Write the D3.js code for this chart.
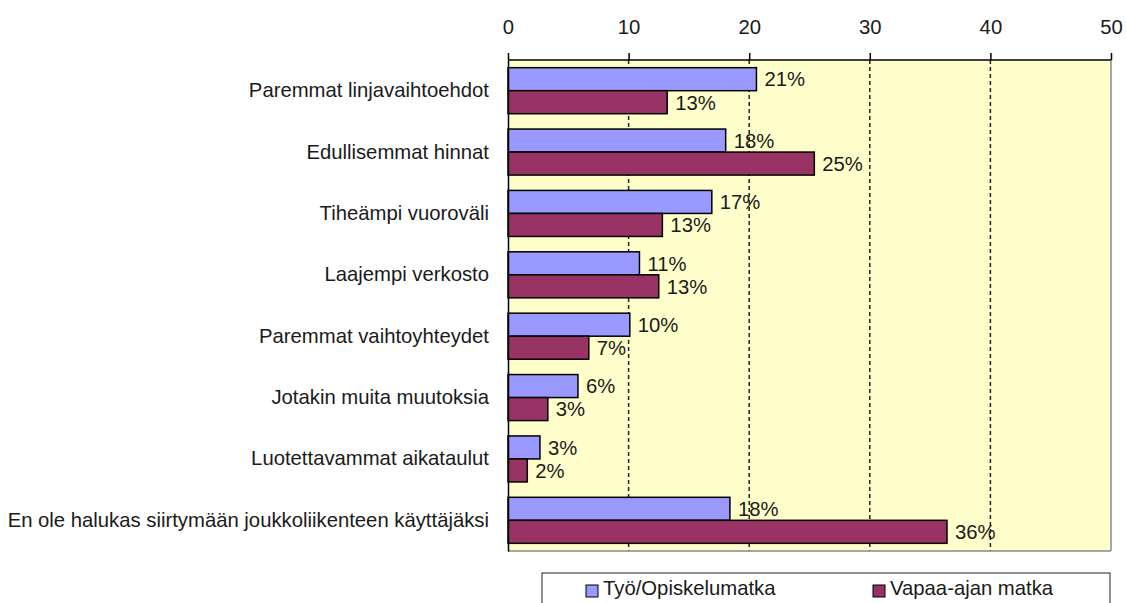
<!DOCTYPE html>
<html>
<head>
<meta charset="utf-8">
<script src="https://cdn.jsdelivr.net/npm/d3@7"></script>
<style>
  body { margin: 0; background: #fff; }
  svg { display: block; font-family: "Liberation Sans", Arial, sans-serif; }
</style>
</head>
<body>
<div id="chart-container"></div>
<script>
// chart data
const categories = [
  'Paremmat linjavaihtoehdot',
  'Edullisemmat hinnat',
  'Tiheämpi vuoroväli',
  'Laajempi verkosto',
  'Paremmat vaihtoyhteydet',
  'Jotakin muita muutoksia',
  'Luotettavammat aikataulut',
  'En ole halukas siirtymään joukkoliikenteen käyttäjäksi'
];
const seriesNames = ['Työ/Opiskelumatka', 'Vapaa-ajan matka'];
const tyoValues = [20.6, 18.05, 16.9, 10.9, 10.1, 5.8, 2.65, 18.4];
const vapaaValues = [13.2, 25.4, 12.8, 12.5, 6.7, 3.3, 1.6, 36.4];
const xTicks = [0, 10, 20, 30, 40, 50];
const colors = ['#9999FF', '#993366'];

const width = 1126;
const height = 603;
const fontSize = 20.3;
const margin = { top: 60, right: 15, bottom: 52, left: 508 };
const innerW = 1111 - margin.left;
const innerH = 551 - margin.top;

const svg = d3.select('#chart-container')
  .append('svg')
  .attr('width', width)
  .attr('height', height);

const g = svg.append('g')
  .attr('transform', `translate(${margin.left},${margin.top})`);

const xScale = d3.scaleLinear().domain([0, 50]).range([0, innerW]);
const yScale = d3.scaleBand()
  .domain(categories)
  .range([0, innerH])
  .paddingInner(0.25)
  .paddingOuter(0.125);
const ySub = d3.scaleBand()
  .domain(seriesNames)
  .range([0, yScale.bandwidth()])
  .padding(0);

// plot background
g.append('rect')
  .attr('width', innerW)
  .attr('height', innerH)
  .attr('fill', '#FFFFCC');

// dashed grid
g.selectAll('.grid')
  .data(xTicks.filter(d => d > 0 && d < 50))
  .enter()
  .append('line')
  .attr('x1', d => xScale(d))
  .attr('x2', d => xScale(d))
  .attr('y1', 0)
  .attr('y2', innerH)
  .attr('stroke', '#222')
  .attr('stroke-width', 1.5)
  .attr('stroke-dasharray', '4,3');

// right and bottom border
g.append('line')
  .attr('x1', innerW).attr('x2', innerW)
  .attr('y1', 0).attr('y2', innerH)
  .attr('stroke', '#888').attr('stroke-width', 1.5);
g.append('line')
  .attr('x1', 0).attr('x2', innerW)
  .attr('y1', innerH).attr('y2', innerH)
  .attr('stroke', '#888').attr('stroke-width', 1.5);

const rows = categories.map((c, i) => ({ cat: c, vals: [tyoValues[i], vapaaValues[i]] }));

// bars
const groups = g.selectAll('.group')
  .data(rows)
  .enter()
  .append('g')
  .attr('transform', d => `translate(0,${yScale(d.cat)})`);

groups.selectAll('rect')
  .data(d => d.vals.map((v, j) => ({ name: seriesNames[j], value: v, j })))
  .enter()
  .append('rect')
  .attr('x', 0)
  .attr('y', d => ySub(d.name))
  .attr('width', d => xScale(d.value))
  .attr('height', ySub.bandwidth())
  .attr('fill', d => colors[d.j])
  .attr('stroke', '#000')
  .attr('stroke-width', 1.5);

groups.selectAll('.lbl')
  .data(d => d.vals.map((v, j) => ({ name: seriesNames[j], value: v })))
  .enter()
  .append('text')
  .attr('x', d => xScale(d.value) + 8)
  .attr('y', d => ySub(d.name) + ySub.bandwidth() / 2)
  .attr('dy', '0.36em')
  .attr('font-size', fontSize)
  .attr('fill', '#1a1a1a')
  .text(d => Math.round(d.value) + '%');

// top axis
const xAxis = d3.axisTop(xScale).tickValues(xTicks).tickSize(7).tickPadding(19);
const ax = g.append('g').call(xAxis);
ax.select('.domain').attr('stroke', '#000').attr('stroke-width', 1.5).attr('d', `M0,0H${innerW}`);
ax.selectAll('.tick line').attr('stroke', '#000').attr('stroke-width', 1.5);
ax.selectAll('.tick text')
  .attr('font-size', fontSize)
  .attr('font-family', '"Liberation Sans", Arial, sans-serif')
  .attr('fill', '#1a1a1a');

// left axis
const yAxis = d3.axisLeft(yScale).tickSize(0).tickPadding(19);
const ay = g.append('g').call(yAxis);
ay.select('.domain').attr('stroke', '#000').attr('stroke-width', 1.5);
ay.selectAll('.tick text')
  .attr('font-size', fontSize)
  .attr('font-family', '"Liberation Sans", Arial, sans-serif')
  .attr('fill', '#1a1a1a');

// legend
const legend = svg.append('g').attr('transform', 'translate(542,573)');
legend.append('rect')
  .attr('width', 568)
  .attr('height', 40)
  .attr('fill', '#fff')
  .attr('stroke', '#222')
  .attr('stroke-width', 1);
const legendX = [44, 331];
seriesNames.forEach((name, i) => {
  legend.append('rect')
    .attr('x', legendX[i])
    .attr('y', 12)
    .attr('width', 12)
    .attr('height', 12)
    .attr('fill', colors[i])
    .attr('stroke', '#000')
    .attr('stroke-width', 1);
  legend.append('text')
    .attr('x', legendX[i] + 17)
    .attr('y', 22)
    .attr('font-size', fontSize)
    .attr('fill', '#1a1a1a')
    .text(name);
});
</script>
</body>
</html>
